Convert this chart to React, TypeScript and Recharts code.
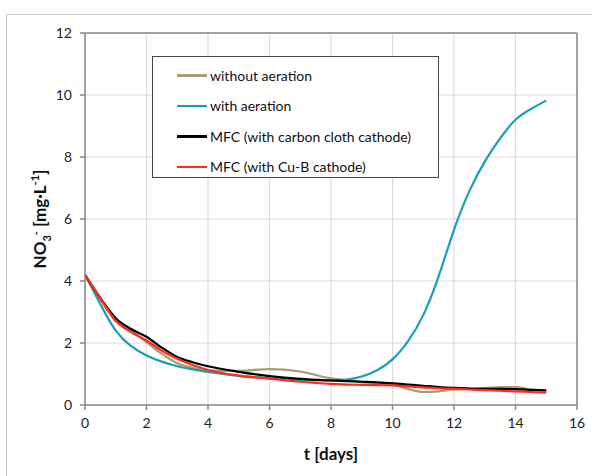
import { CartesianGrid, Line, LineChart, ReferenceLine, XAxis, YAxis } from "recharts";

const days = [0, 0.5, 1, 1.5, 2, 2.5, 3, 3.5, 4, 5, 6, 7, 8, 8.5, 9, 9.5, 10, 10.5, 11, 11.5, 12, 12.5, 13, 13.5, 14, 14.5, 15];

const withoutAeration = [4.2, 3.4, 2.7, 2.4, 2.03, 1.65, 1.35, 1.2, 1.12, 1.1, 1.16, 1.08, 0.86, 0.8, 0.74, 0.7, 0.66, 0.52, 0.42, 0.44, 0.5, 0.53, 0.55, 0.58, 0.58, 0.5, 0.47];
const withAeration = [4.2, 3.25, 2.4, 1.9, 1.6, 1.4, 1.25, 1.15, 1.07, 0.94, 0.86, 0.8, 0.8, 0.82, 0.92, 1.12, 1.47, 2.05, 2.9, 4.15, 5.65, 6.9, 7.85, 8.6, 9.2, 9.55, 9.82];
const mfcCarbon = [4.2, 3.45, 2.8, 2.45, 2.2, 1.85, 1.55, 1.38, 1.25, 1.07, 0.93, 0.84, 0.79, 0.77, 0.75, 0.73, 0.7, 0.66, 0.62, 0.58, 0.55, 0.53, 0.52, 0.52, 0.51, 0.49, 0.47];
const mfcCuB = [4.2, 3.45, 2.72, 2.35, 2.08, 1.75, 1.49, 1.29, 1.13, 0.95, 0.85, 0.75, 0.68, 0.66, 0.65, 0.64, 0.63, 0.6, 0.57, 0.54, 0.52, 0.5, 0.48, 0.46, 0.44, 0.42, 0.4];

const xTicks = [0, 2, 4, 6, 8, 10, 12, 14, 16];
const yTicks = [0, 2, 4, 6, 8, 10, 12];

const series = [
  { key: "withoutAeration", name: "without aeration", color: "#A89D6E", curve: "monotone" },
  { key: "withAeration", name: "with aeration", color: "#1A9EB6", curve: "natural" },
  { key: "mfcCarbon", name: "MFC (with carbon cloth cathode)", color: "#000000", curve: "monotone" },
  { key: "mfcCuB", name: "MFC (with Cu-B cathode)", color: "#FF2A1A", curve: "monotone" },
];

const data = days.map((t, i) => ({
  t,
  withoutAeration: withoutAeration[i],
  withAeration: withAeration[i],
  mfcCarbon: mfcCarbon[i],
  mfcCuB: mfcCuB[i],
}));

const FONT = "Lato, 'Liberation Sans', sans-serif";

const YLabel = () => (
  <text
    transform="translate(46, 219) rotate(-90)"
    textAnchor="middle"
    fontFamily={FONT}
    fontWeight="bold"
    fontSize={17}
    fill="#111"
  >
    NO
    <tspan fontSize={11} dy={5}>3</tspan>
    <tspan fontSize={11} dy={-11}>-</tspan>
    <tspan fontSize={17} dy={6}> [mg·L</tspan>
    <tspan fontSize={11} dy={-7}>-1</tspan>
    <tspan fontSize={17} dy={7}>]</tspan>
  </text>
);

const LegendBox = () => (
  <div
    style={{
      position: "absolute",
      left: 152,
      top: 56,
      width: 287,
      height: 122,
      border: "1.5px solid #444",
      background: "#fff",
      boxSizing: "border-box",
      fontFamily: FONT,
      fontSize: 14,
      color: "#111",
      paddingTop: 3,
    }}
  >
    {series.map((s) => (
      <div key={s.key} style={{ display: "flex", alignItems: "center", height: 30.5 }}>
        <div style={{ width: 30, height: 2.5, background: s.color, marginLeft: 24 }} />
        <span style={{ marginLeft: 3 }}>{s.name}</span>
      </div>
    ))}
  </div>
);

export default function App() {
  return (
    <div style={{ position: "absolute", left: 0, top: 0, width: 592, height: 476, background: "#fff", overflow: "hidden" }}>
      <div
        style={{
          position: "absolute",
          left: 6,
          top: 14,
          width: 600,
          height: 500,
          border: "1.5px solid #c9c9c9",
        }}
      />
      <LineChart
        width={592}
        height={476}
        data={data}
        margin={{ top: 33, right: 15, bottom: 0, left: 0 }}
        style={{ position: "absolute", left: 0, top: 0 }}
      >
        <CartesianGrid stroke="#dcdcdc" strokeWidth={1.2} />
        <XAxis
          dataKey="t"
          type="number"
          domain={[0, 16]}
          ticks={xTicks}
          interval={0}
          stroke="#888"
          strokeWidth={1.5}
          tickSize={5}
          tickMargin={8}
          tick={{ fill: "#222", fontSize: 14, fontFamily: FONT }}
          label={{ value: "t [days]", position: "insideBottom", offset: 16, fill: "#111", fontSize: 17, fontWeight: "bold", fontFamily: FONT }}
          height={71}
        />
        <YAxis
          type="number"
          domain={[0, 12]}
          ticks={yTicks}
          interval={0}
          width={85}
          stroke="#888"
          strokeWidth={1.5}
          tickSize={5}
          tickMargin={8}
          tick={{ fill: "#222", fontSize: 14, fontFamily: FONT }}
          label={<YLabel />}
        />
        <ReferenceLine y={12} stroke="#888" strokeWidth={1.5} />
        <ReferenceLine x={16} stroke="#888" strokeWidth={1.5} />
        {series.map((s) => (
          <Line
            key={s.key}
            type={s.curve as "monotone" | "natural"}
            dataKey={s.key}
            name={s.name}
            stroke={s.color}
            strokeWidth={2.2}
            dot={false}
            isAnimationActive={false}
          />
        ))}
      </LineChart>
      <LegendBox />
    </div>
  );
}
